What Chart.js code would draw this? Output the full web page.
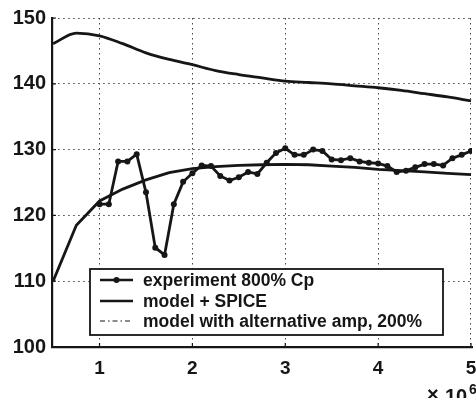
<!DOCTYPE html>
<html>
<head>
<meta charset="utf-8">
<script src="https://cdn.jsdelivr.net/npm/chart.js@4/dist/chart.umd.min.js"></script>
<style>
  html, body { margin: 0; padding: 0; background: #fff; }
  #wrap { width: 476px; height: 398px; }
</style>
</head>
<body>
<div id="wrap"><canvas id="chart" width="476" height="398"></canvas></div>
<script>
// experiment, sampled every 0.1 from 1.0 to 5.0 (x1e6)
const expX = [1.0, 1.1, 1.2, 1.3, 1.4, 1.5, 1.6, 1.7, 1.8, 1.9,
              2.0, 2.1, 2.2, 2.3, 2.4, 2.5, 2.6, 2.7, 2.8, 2.9,
              3.0, 3.1, 3.2, 3.3, 3.4, 3.5, 3.6, 3.7, 3.8, 3.9,
              4.0, 4.1, 4.2, 4.3, 4.4, 4.5, 4.6, 4.7, 4.8, 4.9, 5.0];
const expY = [121.7, 121.7, 128.2, 128.2, 129.3, 123.5, 115.1, 114.0, 121.7, 125.1,
              126.4, 127.6, 127.5, 126.0, 125.3, 125.8, 126.6, 126.3, 128.0, 129.5,
              130.2, 129.2, 129.2, 130.0, 129.8, 128.5, 128.4, 128.7, 128.2, 128.0,
              127.9, 127.5, 126.6, 126.8, 127.3, 127.8, 127.8, 127.6, 128.7, 129.2, 129.8];

// model curves, sampled every 0.25
const modelX = [0.5, 0.75, 1.0, 1.25, 1.5, 1.75, 2.0, 2.25, 2.5, 2.75,
                3.0, 3.25, 3.5, 3.75, 4.0, 4.25, 4.5, 4.75, 5.0];
const spiceY = [146.1, 147.7, 147.3, 146.1, 144.7, 143.7, 142.9, 142.0, 141.4, 140.9,
                140.4, 140.2, 140.0, 139.7, 139.4, 139.0, 138.5, 138.0, 137.4];
const altAmpY = [110.0, 118.5, 122.2, 124.0, 125.4, 126.5, 127.1, 127.4, 127.6, 127.7,
                 127.75, 127.7, 127.5, 127.3, 127.0, 126.8, 126.6, 126.4, 126.2];

const xTicks = [1, 2, 3, 4, 5];
const legendLabels = ['experiment 800% Cp', 'model + SPICE', 'model with alternative amp, 200%'];

const FONT = '"Liberation Sans", Arial, Helvetica, sans-serif';
const INK = '#161616';

function pts(xs, ys) {
    return xs.map((x, i) => ({ x: x, y: ys[i] }));
}

// legend box, small inward ticks and the x10^6 label drawn on top
const overlay = {
    id: 'overlay',
    afterDraw(chart) {
        const ctx = chart.ctx;
        const xs = chart.scales.x, ys = chart.scales.y;
        const area = chart.chartArea;
        ctx.save();
        ctx.strokeStyle = INK;
        ctx.lineWidth = 1.2;
        ctx.beginPath();
        xTicks.forEach(v => {
            const px = xs.getPixelForValue(v);
            ctx.moveTo(px, area.bottom); ctx.lineTo(px, area.bottom - 4);
        });
        ys.ticks.forEach(t => {
            const py = ys.getPixelForValue(t.value);
            ctx.moveTo(area.left, py); ctx.lineTo(area.left + 4, py);
        });
        ctx.stroke();

        // legend
        ctx.fillStyle = '#fff';
        ctx.fillRect(90, 269, 353, 66);
        ctx.lineWidth = 1.8;
        ctx.strokeRect(90, 269, 353, 66);

        const rows = [280, 301, 321];
        ctx.lineWidth = 2.6;
        ctx.beginPath();
        ctx.moveTo(100, rows[0]); ctx.lineTo(133, rows[0]);
        ctx.stroke();
        ctx.fillStyle = INK;
        ctx.beginPath();
        ctx.arc(116.5, rows[0], 3, 0, Math.PI * 2);
        ctx.fill();

        ctx.beginPath();
        ctx.moveTo(100, rows[1]); ctx.lineTo(133, rows[1]);
        ctx.stroke();

        ctx.lineWidth = 1.2;
        ctx.setLineDash([5, 3, 1.5, 3]);
        ctx.beginPath();
        ctx.moveTo(100, rows[2]); ctx.lineTo(133, rows[2]);
        ctx.stroke();
        ctx.setLineDash([]);

        ctx.font = 'bold 17.5px ' + FONT;
        ctx.textBaseline = 'middle';
        ctx.textAlign = 'left';
        legendLabels.forEach((t, i) => ctx.fillText(t, 143, rows[i] + 1));

        // axis multiplier
        ctx.textBaseline = 'alphabetic';
        ctx.font = 'bold 20px ' + FONT;
        ctx.fillText('\u00d7', 427, 401);
        ctx.fillText('10', 445, 403);
        ctx.font = 'bold 14px ' + FONT;
        ctx.fillText('6', 469, 394);
        ctx.restore();
    }
};

const ctx = document.getElementById('chart').getContext('2d');
new Chart(ctx, {
    type: 'line',
    data: {
        datasets: [
            {
                label: legendLabels[0],
                data: pts(expX, expY),
                borderColor: INK,
                backgroundColor: INK,
                borderWidth: 2.8,
                pointRadius: 3,
                pointBorderWidth: 0,
                tension: 0
            },
            {
                label: legendLabels[1],
                data: pts(modelX, spiceY),
                borderColor: INK,
                borderWidth: 2.8,
                pointRadius: 0,
                cubicInterpolationMode: 'monotone'
            },
            {
                label: legendLabels[2],
                data: pts(modelX, altAmpY),
                borderColor: INK,
                borderWidth: 2.8,
                pointRadius: 0,
                tension: 0
            }
        ]
    },
    options: {
        responsive: false,
        animation: false,
        layout: { padding: { left: 0, right: 0, top: 16, bottom: 0 } },
        plugins: {
            legend: { display: false },
            tooltip: { enabled: false }
        },
        scales: {
            x: {
                type: 'linear',
                min: 0.488,
                max: 5.011,
                afterBuildTicks: s => { s.ticks = xTicks.map(v => ({ value: v })); },
                afterFit: s => { s.height = 51; s.paddingLeft = 0; s.paddingRight = 0; },
                grid: { color: '#444', lineWidth: 1, drawTicks: false },
                border: { display: true, color: INK, width: 2.2, dash: [1.5, 3.5] },
                ticks: {
                    color: INK,
                    padding: 10,
                    font: { family: FONT, size: 19, weight: 'bold' },
                    callback: v => String(v)
                }
            },
            y: {
                min: 100,
                max: 150,
                afterFit: s => { s.width = 52; },
                grid: { color: '#444', lineWidth: 1, drawTicks: false },
                border: { display: true, color: INK, width: 2.2, dash: [1.5, 3.5] },
                ticks: {
                    color: INK,
                    stepSize: 10,
                    padding: 6,
                    font: { family: FONT, size: 20, weight: 'bold' }
                }
            }
        }
    },
    plugins: [overlay]
});
</script>
</body>
</html>
